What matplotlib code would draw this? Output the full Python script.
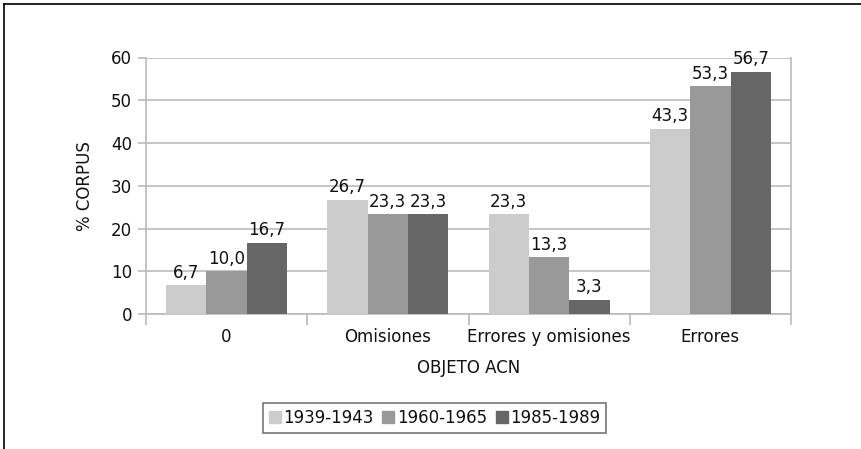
import matplotlib
matplotlib.use("Agg")
import matplotlib.pyplot as plt
from matplotlib.lines import Line2D
import numpy as np

categories = ["0", "Omisiones", "Errores y omisiones", "Errores"]
series_names = ["1939-1943", "1960-1965", "1985-1989"]
v1939 = [6.7, 26.7, 23.3, 43.3]
v1960 = [10.0, 23.3, 13.3, 53.3]
v1985 = [16.7, 23.3, 3.3, 56.7]
colors = ["#cccccc", "#999999", "#666666"]
yticks = [0, 10, 20, 30, 40, 50, 60]

W, H = 861, 449
fig = plt.figure(figsize=(W / 100, H / 100), dpi=100)
fig.patch.set_facecolor("white")

L, R, B, T = 146, 791, 314, 57.5
ax = fig.add_axes([L / W, 1 - B / H, (R - L) / W, (B - T) / H])

grid_c = "#bbbbbb"
x = np.arange(len(categories))
bw = 0.25
data = [v1939, v1960, v1985]
for i, (vals, c) in enumerate(zip(data, colors)):
    pos = x + (i - 1) * bw
    ax.bar(pos, vals, width=bw, color=c, zorder=3, label=series_names[i])
    for xp, v in zip(pos, vals):
        ax.annotate(f"{v:.1f}".replace(".", ","), (xp, v), xytext=(0, 2.5),
                    textcoords="offset points", ha="center", va="bottom",
                    fontsize=12, color="#111111", zorder=4)

ax.set_xlim(-0.5, len(categories) - 0.5)
ax.set_ylim(0, 60)
ax.set_yticks(yticks)
ax.yaxis.grid(True, color=grid_c, linewidth=1.2, zorder=0)
ax.set_axisbelow(True)
ax.spines["top"].set_visible(False)
for s in ["right", "left", "bottom"]:
    ax.spines[s].set_color(grid_c)
for s in ax.spines.values():
    s.set_linewidth(1.2)

ax.tick_params(axis="y", length=6, width=1.2, color=grid_c, labelsize=12, pad=4, labelcolor="#111111")
ax.set_xticks(np.arange(-0.5, len(categories), 1.0))
ax.set_xticklabels([])
ax.tick_params(axis="x", length=8, width=1.2, color=grid_c, direction="out")

for i, cat in enumerate(categories):
    xf = (L + (R - L) * (i + 0.5) / len(categories)) / W
    fig.text(xf, 1 - 337 / H, cat, ha="center", va="center", fontsize=12, color="#111111")

fig.text((L + R) / 2 / W, 1 - 368 / H, "OBJETO ACN", ha="center", va="center", fontsize=12, color="#111111")
fig.text(85 / W, 1 - 186 / H, "% CORPUS", ha="center", va="center", rotation=90, fontsize=12, color="#111111")

handles = [Line2D([0], [0], marker="s", linestyle="none", markersize=8,
                  markerfacecolor=c, markeredgecolor=c) for c in colors]
leg = fig.legend(handles, series_names, loc="center", bbox_to_anchor=(434.5 / W, 1 - 418 / H),
                 ncol=3, fontsize=12, frameon=True, fancybox=False, handlelength=0.7,
                 handletextpad=0.15, columnspacing=0.55, borderpad=0.35, borderaxespad=0)
leg.get_frame().set_edgecolor("#555555")
leg.get_frame().set_linewidth(1.2)
for t in leg.get_texts():
    t.set_color("#111111")

fig.add_artist(Line2D([3.5 / W, 3.5 / W], [0, 1 - 3.5 / H], color="black", linewidth=1.2, transform=fig.transFigure))
fig.add_artist(Line2D([3.5 / W, 1], [1 - 3.5 / H, 1 - 3.5 / H], color="black", linewidth=1.2, transform=fig.transFigure))

fig.savefig("out.png", dpi=100)
